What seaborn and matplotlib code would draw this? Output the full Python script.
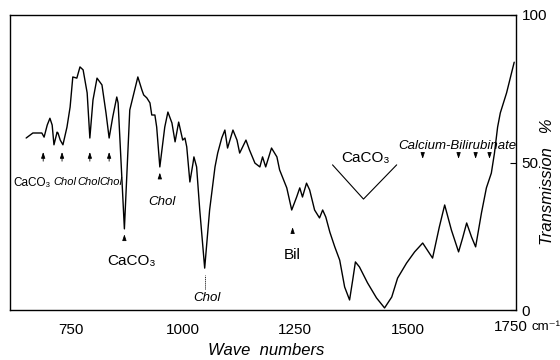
import matplotlib
matplotlib.use("Agg")
import matplotlib.pyplot as plt
import seaborn as sns
import pandas as pd

# IR spectrum (wave number in cm^-1, transmission in %)
wavenumber = [650, 665, 685, 690, 697, 703, 708, 712, 719, 721, 726, 732, 741, 748,
              754, 763, 770, 777, 786, 792, 799, 808, 819, 828, 835, 843, 852, 855,
              869, 881, 899, 908, 912, 919, 926, 930, 937, 941, 948, 959, 966, 975,
              982, 990, 999, 1004, 1008, 1015, 1022, 1024, 1030, 1037, 1048, 1059,
              1071, 1077, 1086, 1093, 1099, 1111, 1120, 1126, 1140, 1148, 1160, 1171,
              1177, 1184, 1197, 1209, 1215, 1231, 1242, 1253, 1260, 1266, 1275, 1282,
              1293, 1304, 1311, 1318, 1327, 1338, 1349, 1360, 1371, 1378, 1384, 1393,
              1411, 1431, 1449, 1465, 1478, 1498, 1516, 1534, 1556, 1571, 1583, 1598,
              1614, 1623, 1632, 1643, 1652, 1665, 1676, 1687, 1694, 1701, 1707, 1721,
              1738]
transmission = [58.3, 60.0, 60.0, 58.6, 62.7, 65.0, 62.7, 56.0, 60.3, 60.0, 57.6, 56.0,
                62.0, 68.8, 79.0, 78.6, 82.4, 81.4, 73.6, 58.3, 71.2, 78.6, 76.3, 66.8,
                58.3, 65.4, 72.2, 70.2, 27.5, 67.8, 79.0, 74.6, 72.9, 71.9, 70.2, 66.1,
                66.1, 62.0, 48.5, 62.0, 67.1, 63.4, 57.0, 63.7, 57.6, 58.3, 55.3, 43.4,
                49.8, 51.9, 48.5, 33.9, 14.2, 33.9, 48.5, 53.2, 58.3, 61.0, 54.9, 61.0,
                57.6, 53.2, 57.6, 54.2, 49.8, 48.5, 51.9, 48.5, 54.9, 51.9, 47.5, 41.4,
                33.9, 38.3, 41.4, 38.3, 43.0, 40.7, 33.9, 31.2, 33.9, 31.5, 26.4, 21.4,
                16.9, 7.8, 3.4, 10.2, 16.3, 14.6, 9.2, 4.1, 0.7, 4.4, 10.8, 15.9, 19.7,
                22.7, 17.6, 28.1, 35.6, 27.1, 19.7, 24.4, 29.5, 24.7, 21.4, 32.9, 41.4,
                46.4, 53.2, 62.0, 66.8, 73.6, 84.0]

x_ticks = [750, 1000, 1250, 1500]
x_tick_labels = ["750", "1000", "1250", "1500"]
y_ticks = [0, 50, 100]
y_tick_labels = ["0", "50", "100"]

df = pd.DataFrame({"wn": wavenumber, "T": transmission})

sns.set_theme(style="white")
fam = ["Liberation Sans", "DejaVu Sans"]
plt.rcParams["font.family"] = fam
for k in ["text.color", "xtick.color", "ytick.color", "axes.labelcolor"]:
    plt.rcParams[k] = "black"

up = dict(fontsize=11)
ital = dict(fontsize=9.5, style="italic")

fig = plt.figure(figsize=(5.6, 3.6), dpi=100)
ax = fig.add_axes([10 / 560, 50 / 360, 506 / 560, 295 / 360])
sns.lineplot(data=df, x="wn", y="T", ax=ax, color="black", linewidth=1.0, sort=False)

ax.set_xlim(614, 1742)
ax.set_ylim(0, 100)
ax.set_xlabel("")
ax.set_ylabel("")
for s in ax.spines.values():
    s.set_color("black")
    s.set_linewidth(1.0)

ax.set_xticks(x_ticks)
ax.set_xticklabels(x_tick_labels, **up)
ax.yaxis.tick_right()
ax.set_yticks(y_ticks)
ax.set_yticklabels(y_tick_labels, **up)
ax.tick_params(axis="both", direction="in", length=4, width=0.8, colors="black")
ax.tick_params(axis="x", pad=9)
ax.tick_params(axis="y", pad=4)

ax.text(1768, -5.8, "1750", ha="right", va="center", clip_on=False, **up)
ax.text(1776, -5.8, "cm⁻¹", ha="left", va="center", clip_on=False, fontsize=9.5)
ax.text(1184, -13.6, "Wave  numbers", ha="center", va="center", clip_on=False,
        fontsize=12, style="italic")
fig.text(548 / 560, 1 - 182 / 360, "Transmission   %", rotation=90, ha="center",
         va="center", fontsize=12, style="italic")

arrow = dict(arrowstyle="-|>,head_length=0.3,head_width=0.1", color="black", lw=0.6)

# left group
for xw in [688, 730, 792, 835]:
    ax.annotate("", xy=(xw, 54.5), xytext=(xw, 49.5), arrowprops=arrow)
ax.text(664, 43, "CaCO₃", ha="center", va="center", fontsize=8.5)
for xw in [737, 789, 840]:
    ax.text(xw, 43.5, "Chol", ha="center", va="center", fontsize=8, style="italic")

ax.annotate("", xy=(869, 26.6), xytext=(869, 23.5), arrowprops=arrow)
ax.text(884, 16.6, "CaCO₃", ha="center", va="center", **up)

ax.annotate("", xy=(948, 47.5), xytext=(948, 44.5), arrowprops=arrow)
ax.text(953, 36.6, "Chol", ha="center", va="center", **ital)

ax.plot([1048, 1048], [7, 12], color="black", lw=0.7, ls=(0, (1, 1)))
ax.text(1053, 4, "Chol", ha="center", va="center", **ital)

ax.annotate("", xy=(1244, 29), xytext=(1244, 25.5), arrowprops=arrow)
ax.text(1244, 18.6, "Bil", ha="center", va="center", **up)

ax.plot([1333, 1402, 1476], [49.2, 37.6, 49.2], color="black", lw=0.8)
ax.text(1407, 51.5, "CaCO₃", ha="center", va="center", **up)

ax.text(1612, 55.5, "Calcium-Bilirubinate", ha="center", va="center",
        fontsize=9.5, style="italic")
for xw in [1534, 1614, 1652, 1683]:
    ax.annotate("", xy=(xw, 50.3), xytext=(xw, 53.3), arrowprops=arrow)

fig.savefig("out.png", dpi=100, facecolor="white")
